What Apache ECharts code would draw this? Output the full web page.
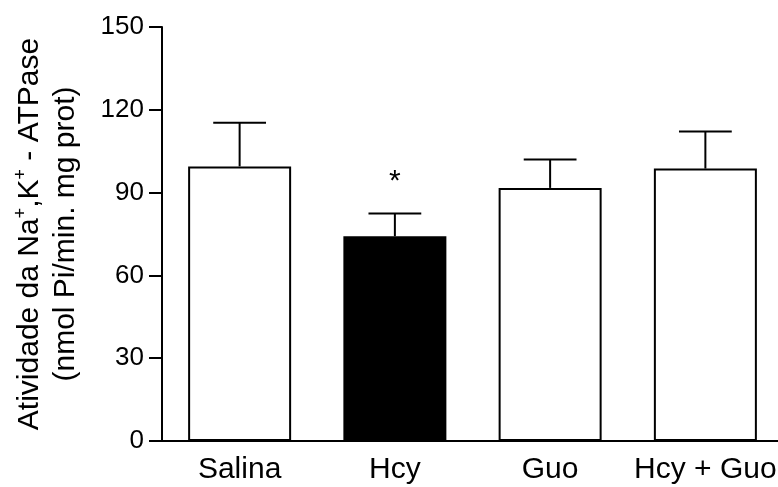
<!DOCTYPE html>
<html>
<head>
<meta charset="utf-8">
<script src="https://cdn.jsdelivr.net/npm/echarts@6/dist/echarts.min.js"></script>
<style>
html,body{margin:0;padding:0;background:#fff;}
#chart{width:778px;height:487px;}
</style>
</head>
<body>
<div id="chart"></div>
<script>
const categories = ['Salina', 'Hcy', 'Guo', 'Hcy + Guo'];
const means = [99.5, 74.2, 91.7, 98.7];
const errors = [15.8, 8.2, 10.3, 13.4];
const significance = ['', '*', '', ''];
const yTicks = [0, 30, 60, 90, 120, 150];

const FONT = 'Liberation Sans';
const chart = echarts.init(document.getElementById('chart'), null, {renderer: 'canvas'});

const option = {
  backgroundColor: '#fff',
  animation: false,
  grid: {left: 162, top: 27, width: 621, height: 414, containLabel: false, outerBoundsMode: 'none'},
  xAxis: {
    type: 'category',
    data: categories,
    axisLine: {lineStyle: {color: '#000', width: 2}},
    axisTick: {alignWithLabel: true, length: 12, lineStyle: {color: '#000', width: 2}},
    axisLabel: {interval: 0, margin: 14, fontSize: 30, fontFamily: FONT, color: '#000', hideOverlap: false}
  },
  yAxis: {
    type: 'value',
    min: yTicks[0],
    max: yTicks[yTicks.length - 1],
    interval: yTicks[1] - yTicks[0],
    splitLine: {show: false},
    axisLine: {show: true, lineStyle: {color: '#000', width: 2}},
    axisTick: {show: true, length: 13, lineStyle: {color: '#000', width: 2}},
    axisLabel: {margin: 18, fontSize: 26, fontFamily: FONT, color: '#000'},
    name: '{t|Atividade da Na}{sup|+}{t|,K}{sup|+}{t| - ATPase}\n{t|(nmol Pi/min. mg prot)}',
    nameLocation: 'middle',
    nameRotate: 90,
    nameGap: 78,
    nameTextStyle: {
      fontFamily: FONT, fontSize: 30, color: '#000', lineHeight: 36,
      rich: {
        t: {fontFamily: FONT, fontSize: 30, color: '#000', lineHeight: 36},
        sup: {fontFamily: FONT, fontSize: 18, color: '#000', lineHeight: 36, verticalAlign: 'top'}
      }
    }
  },
  series: [
    {
      type: 'bar',
      data: means,
      barWidth: 103,
      itemStyle: {
        color: p => (p.name === 'Hcy' ? '#000' : '#fff'),
        borderColor: '#000',
        borderWidth: 2
      },
      z: 2
    },
    {
      type: 'custom',
      data: means.map((m, i) => [i, m, errors[i]]),
      z: 3,
      renderItem: function (params, api) {
        const i = api.value(0);
        const m = api.value(1);
        const e = api.value(2);
        const sig = significance[i];
        const base = api.coord([i, m]);
        const top = api.coord([i, m + e]);
        const half = api.size([1, 0])[0] * 0.17;
        const children = [
          {type: 'line', shape: {x1: base[0], y1: base[1], x2: top[0], y2: top[1]}, style: {stroke: '#000', lineWidth: 2}},
          {type: 'line', shape: {x1: top[0] - half, y1: top[1], x2: top[0] + half, y2: top[1]}, style: {stroke: '#000', lineWidth: 2}}
        ];
        if (sig) {
          children.push({
            type: 'text',
            style: {text: sig, x: top[0], y: top[1] - 32, align: 'center', verticalAlign: 'middle', fontSize: 30, fontFamily: FONT, fill: '#000'}
          });
        }
        return {type: 'group', children: children};
      }
    }
  ]
};
chart.setOption(option);
</script>
</body>
</html>
